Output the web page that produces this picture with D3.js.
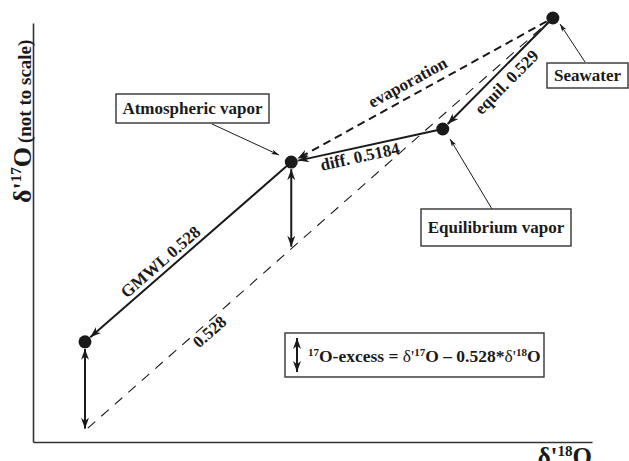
<!DOCTYPE html>
<html><head><meta charset="utf-8">
<script src="https://cdn.jsdelivr.net/npm/d3@7"></script>
<style>
body{margin:0;background:#fff}
svg{display:block}
text{font-family:"Liberation Serif","Times New Roman",serif;font-weight:bold;fill:#1a1a1a}
</style>
</head><body>
<svg id="chart" width="629" height="461"></svg>
<script>
// Schematic triple-oxygen-isotope diagram: δ'17O vs δ'18O (arbitrary units, not to scale)
const pointNames = ["Seawater", "Equilibrium vapor", "Atmospheric vapor", "Precipitation"];
const pointD18 = [93.0, 73.3, 46.2, 9.3];
const pointD17 = [101.2, 74.7, 66.8, 23.9];

// reference line with slope 0.528 (dashed)
const refD18 = [9.8, 93.0];
const refD17 = [3.3, 101.2];
const refLabel = "0.528";

// fractionation steps: from point index -> to point index
const stepFrom = [0, 1, 2];
const stepTo = [1, 2, 3];
const stepLabels = ["equil. 0.529", "diff. 0.5184", "GMWL 0.528"];

// direct evaporation path
const evapFrom = 0, evapTo = 2;
const evapLabel = "evaporation";

// points where the 17O-excess is shown
const excessPoints = [2, 3];

// labelled points (index into pointNames)
const boxedPoints = [0, 1, 2];

const svg = d3.select("#chart");
const ink = "#1a1a1a";

const x = d3.scaleLinear().domain([0, 100]).range([33, 592]);
const y = d3.scaleLinear().domain([0, 100]).range([442, 23]);

// ---- arrow markers ----
const defs = svg.append("defs");
function marker(id, len, wid) {
  defs.append("marker").attr("id", id)
    .attr("viewBox", `0 ${-wid / 2} ${len} ${wid}`)
    .attr("refX", len).attr("refY", 0)
    .attr("markerWidth", len).attr("markerHeight", wid)
    .attr("markerUnits", "userSpaceOnUse")
    .attr("orient", "auto-start-reverse")
    .append("path")
    .attr("d", `M0,${-wid / 2}L${len},0L0,${wid / 2}L${len * 0.3},0Z`)
    .attr("fill", ink);
}
marker("head", 11, 8);
marker("headSmall", 8, 5);

// ---- axes (lines only, no ticks) ----
svg.append("g").attr("transform", `translate(0,${y(0)})`)
  .call(d3.axisBottom(x).ticks(0).tickSizeOuter(0))
  .call(g => g.select(".domain").attr("stroke", "#333").attr("stroke-width", 1.6));
svg.append("g").attr("transform", `translate(${x(0)},0)`)
  .call(d3.axisLeft(y).ticks(0).tickSizeOuter(0))
  .call(g => g.select(".domain").attr("stroke", "#333").attr("stroke-width", 1.6));

// axis titles
const xt = svg.append("text").attr("x", 592).attr("y", 465).attr("text-anchor", "end").attr("font-size", 25);
xt.append("tspan").text("δ'");
xt.append("tspan").attr("font-size", 15).attr("dy", -9).text("18");
xt.append("tspan").attr("dy", 9).text("O");

const yt = svg.append("text").attr("transform", "translate(31,203) rotate(-90)").attr("font-size", 26);
yt.append("tspan").text("δ'");
yt.append("tspan").attr("font-size", 15).attr("dy", -10).text("17");
yt.append("tspan").attr("dy", 10).text("O");
yt.append("tspan").attr("font-size", 19).attr("dx", 4).text("(not to scale)");

// ---- helpers ----
const P = i => [x(pointD18[i]), y(pointD17[i])];
function trim(a, b, s0, s1) {
  const dx = b[0] - a[0], dy = b[1] - a[1], L = Math.hypot(dx, dy);
  return [[a[0] + dx * s0 / L, a[1] + dy * s0 / L], [b[0] - dx * s1 / L, b[1] - dy * s1 / L]];
}
const line = d3.line();
const refSlope = (refD17[1] - refD17[0]) / (refD18[1] - refD18[0]);
const refAt = v => refD17[0] + refSlope * (v - refD18[0]);

// label rotated to the segment (reading left to right); t is measured from the
// left-hand end, off is the baseline offset perpendicular to the segment
function alongLabel(a, b, t, off, txt) {
  const p = a[0] <= b[0] ? a : b, q = a[0] <= b[0] ? b : a;
  const ang = Math.atan2(q[1] - p[1], q[0] - p[0]) * 180 / Math.PI;
  const cx = p[0] + (q[0] - p[0]) * t, cy = p[1] + (q[1] - p[1]) * t;
  svg.append("text")
    .attr("transform", `translate(${cx},${cy}) rotate(${ang})`)
    .attr("y", off).attr("text-anchor", "middle").attr("font-size", 17)
    .text(txt);
}

// ---- reference line ----
const r0 = [x(refD18[0]), y(refD17[0])], r1 = [x(refD18[1]), y(refD17[1])];
svg.append("path").attr("d", line([r0, r1]))
  .attr("stroke", ink).attr("stroke-width", 1.1).attr("stroke-dasharray", "10,8").attr("fill", "none");
alongLabel(r0, r1, 0.25, 14, refLabel);

// ---- evaporation (dashed) ----
{
  const [a, b] = trim(P(evapFrom), P(evapTo), 7, 7);
  svg.append("path").attr("d", line([a, b]))
    .attr("stroke", ink).attr("stroke-width", 2).attr("stroke-dasharray", "8,5")
    .attr("fill", "none").attr("marker-end", "url(#head)");
  alongLabel(P(evapFrom), P(evapTo), 0.47, -8, evapLabel);
}

// ---- fractionation steps ----
const stepLabelPos = [[0.5, 18], [0.44, 15], [0.4, -5]];
stepFrom.forEach((f, k) => {
  const [a, b] = trim(P(f), P(stepTo[k]), 6, 7);
  svg.append("path").attr("d", line([a, b]))
    .attr("stroke", ink).attr("stroke-width", 2).attr("fill", "none")
    .attr("marker-end", "url(#head)");
  alongLabel(P(f), P(stepTo[k]), stepLabelPos[k][0], stepLabelPos[k][1], stepLabels[k]);
});

// ---- 17O-excess arrows ----
excessPoints.forEach(i => {
  const top = [x(pointD18[i]), y(pointD17[i]) + 7];
  const bot = [x(pointD18[i]), y(refAt(pointD18[i])) - 2];
  svg.append("path").attr("d", line([top, bot]))
    .attr("stroke", ink).attr("stroke-width", 2).attr("fill", "none")
    .attr("marker-start", "url(#head)").attr("marker-end", "url(#head)");
});

// ---- points ----
svg.selectAll("circle.pt").data(pointNames).join("circle")
  .attr("class", "pt")
  .attr("cx", (d, i) => x(pointD18[i])).attr("cy", (d, i) => y(pointD17[i]))
  .attr("r", 6.5).attr("fill", ink);

// ---- boxed labels with pointer lines ----
const boxLayout = {
  0: { x0: 547, y0: 63, x1: 628, y1: 88, from: [585, 62], to: [560, 24] },
  1: { x0: 421, y0: 209, x1: 571, y1: 246, from: [492, 209], to: [450, 139] },
  2: { x0: 116, y0: 94, x1: 269, y1: 123, from: [212, 124], to: [279, 155] }
};
boxedPoints.forEach(i => {
  const b = boxLayout[i];
  svg.append("path").attr("d", line([b.from, b.to]))
    .attr("stroke", ink).attr("stroke-width", 1).attr("fill", "none")
    .attr("marker-end", "url(#headSmall)");
  svg.append("rect").attr("x", b.x0).attr("y", b.y0)
    .attr("width", b.x1 - b.x0).attr("height", b.y1 - b.y0)
    .attr("fill", "#fff").attr("stroke", "#333").attr("stroke-width", 1.4);
  svg.append("text").attr("x", (b.x0 + b.x1) / 2).attr("y", (b.y0 + b.y1) / 2 + 5.5)
    .attr("text-anchor", "middle").attr("font-size", 17).text(pointNames[i]);
});

// ---- definition box ----
svg.append("rect").attr("x", 285).attr("y", 333).attr("width", 259).attr("height", 44)
  .attr("fill", "#fff").attr("stroke", "#333").attr("stroke-width", 1.4);
svg.append("path").attr("d", line([[297, 338], [297, 372]]))
  .attr("stroke", ink).attr("stroke-width", 2)
  .attr("marker-start", "url(#head)").attr("marker-end", "url(#head)");
const ft = svg.append("text").attr("x", 308).attr("y", 362).attr("font-size", 17.5);
ft.append("tspan").attr("font-size", 11).attr("dy", -6).text("17");
ft.append("tspan").attr("dy", 6).text("O-excess = ");
ft.append("tspan").attr("font-weight", "normal").text("δ'");
ft.append("tspan").attr("font-size", 11).attr("dy", -6).text("17");
ft.append("tspan").attr("dy", 6).text("O – 0.528*");
ft.append("tspan").attr("font-weight", "normal").text("δ'");
ft.append("tspan").attr("font-size", 11).attr("dy", -6).text("18");
ft.append("tspan").attr("dy", 6).text("O");
</script>
</body></html>
